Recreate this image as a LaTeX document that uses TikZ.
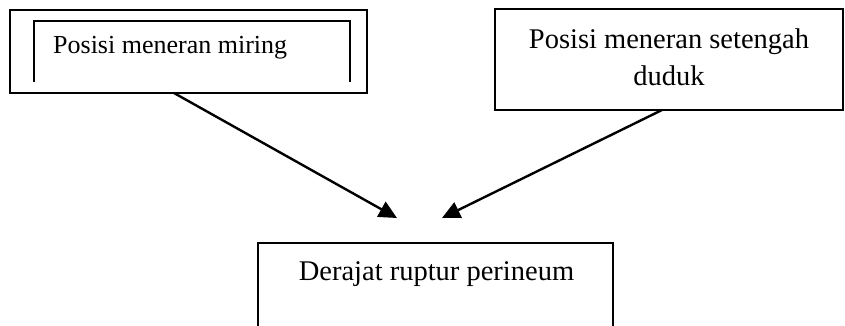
\documentclass[tikz,border=0pt]{standalone}
\usepackage{fontspec}
\setmainfont{Liberation Serif}
\usetikzlibrary{arrows.meta}
\begin{document}
\begin{tikzpicture}[x=1pt,y=-1pt,
  frame/.style={draw, line width=1.8pt, rectangle, inner sep=0pt},
  open frame/.style={line width=1.3pt},
  label big/.style={font=\fontsize{28.5}{37}\selectfont, inner sep=0pt, align=center},
  label small/.style={font=\fontsize{26}{32}\selectfont, inner sep=0pt},
  link/.style={line width=2.4pt, -{Triangle[length=18pt,width=17pt]}}]
\useasboundingbox (0,0) rectangle (845,325);

% upper left: double frame, inner one open at the bottom
\node[frame, minimum width=357pt, minimum height=83pt] (A) at (188.5,51.5) {};
\draw[open frame] (34,82) -- (34,21) -- (350,21) -- (350,82);
\node[label small, anchor=base west] (Atext) at (53,53) {Posisi meneran miring};

% upper right box (two-line label, anchored on its last baseline)
\node[frame, minimum width=348pt, minimum height=101pt] (B) at (669,59.5) {};
\node[label big, anchor=base] (Btext) at (669,85) {Posisi meneran setengah\\duduk};

% lower box, running off the bottom edge
\coordinate (Ctl) at (258,243);
\coordinate (Ctr) at (613,243);
\coordinate (Cbl) at (258,326);
\coordinate (Cbr) at (613,326);
\draw[line width=1.6pt] (Cbl) -- (Ctl) -- (Ctr) -- (Cbr);
\node[label big, anchor=base] (Ctext) at (436.5,280) {Derajat ruptur perineum};

% arrows pointing towards the lower box
\coordinate (a1) at (174,93);
\coordinate (t1) at (397,218);
\coordinate (a2) at (662,110);
\coordinate (t2) at (442,218);
\draw[link] (a1) -- (t1);
\draw[link] (a2) -- (t2);
\end{tikzpicture}
\end{document}
